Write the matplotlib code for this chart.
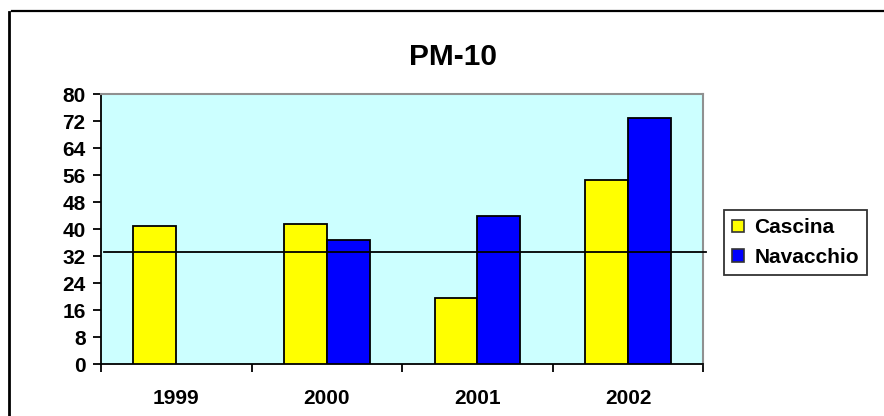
import matplotlib
matplotlib.use("Agg")
import matplotlib.pyplot as plt
from matplotlib.lines import Line2D
from matplotlib.patches import Patch
import numpy as np

years = ["1999", "2000", "2001", "2002"]
cascina = [41.0, 41.5, 19.6, 54.6]
navacchio = [None, 36.8, 43.9, 73.0]
limit = 33.2
yticks = [0, 8, 16, 24, 32, 40, 48, 56, 64, 72, 80]

plt.rcParams['font.family'] = ['Liberation Sans', 'DejaVu Sans']
plt.rcParams['font.weight'] = 'bold'

W, H = 884, 416
fig = plt.figure(figsize=(W / 100, H / 100), dpi=100)
fig.patch.set_facecolor('white')

ax = fig.add_axes([101 / W, 1 - 364.3 / H, (703.3 - 101) / W, (364.3 - 94.3) / H])
ax.set_facecolor('#CCFFFF')

x = np.arange(len(years))
bw = 0.285
cas_vals = [v if v is not None else 0 for v in cascina]
cas_x = [xi - bw / 2 for xi in x]
nav_x = [xi + bw / 2 for xi, v in zip(x, navacchio) if v is not None]
nav_v = [v for v in navacchio if v is not None]

ax.bar(cas_x, cas_vals, width=bw, color='#FFFF00', edgecolor='black', linewidth=1.3, zorder=3, label='Cascina')
ax.bar(nav_x, nav_v, width=bw, color='#0000FF', edgecolor='black', linewidth=1.3, zorder=3, label='Navacchio')

ax.axhline(limit, xmin=0.0055, xmax=1.005, color='black', linewidth=1.3, zorder=4, clip_on=False)

ax.set_xlim(-0.5, len(years) - 0.5)
ax.set_ylim(0, 80)
ax.set_yticks(yticks)
ax.set_yticklabels([str(t) for t in yticks], fontsize=15, fontweight='bold')
ax.set_xticks(np.arange(-0.5, len(years), 1.0))
ax.set_xticklabels([])
ax.set_xticks(x, minor=True)
ax.set_xticklabels(years, minor=True, fontsize=15, fontweight='bold')
ax.tick_params(axis='x', which='major', direction='out', length=6, width=1.3, color='black')
ax.tick_params(axis='x', which='minor', length=0, pad=18)
ax.tick_params(axis='y', direction='out', length=6, width=1.3, pad=5)

for s in ['top', 'right']:
    ax.spines[s].set_color('#909090')
    ax.spines[s].set_linewidth(1.5)
for s in ['left', 'bottom']:
    ax.spines[s].set_color('black')
    ax.spines[s].set_linewidth(1.3)

fig.text(453 / W, 1 - 57 / H, 'PM-10', ha='center', va='center', fontsize=21.5, fontweight='bold')

handles = [Patch(facecolor='#FFFF00', edgecolor='#333333', linewidth=1.2, label='Cascina'),
           Patch(facecolor='#0000FF', edgecolor='#333333', linewidth=1.2, label='Navacchio')]
leg = fig.legend(handles=handles, loc='upper left', bbox_to_anchor=(724 / W, 1 - 210 / H),
                 frameon=True, fancybox=False, edgecolor='black',
                 prop={'weight': 'bold', 'size': 15}, handlelength=0.55, handleheight=0.55,
                 handletextpad=0.5, borderpad=0.4, labelspacing=0.5, borderaxespad=0)
leg.get_frame().set_linewidth(1.3)

# outer chart border (top and left edges visible)
fig.add_artist(Line2D([12 / W, 1.0], [1 - 11 / H, 1 - 11 / H], color='black', linewidth=1.6))
fig.add_artist(Line2D([8.7 / W, 8.7 / W], [1 - 12 / H, 0.0], color='black', linewidth=2.0))

fig.savefig('out.png', dpi=100)
